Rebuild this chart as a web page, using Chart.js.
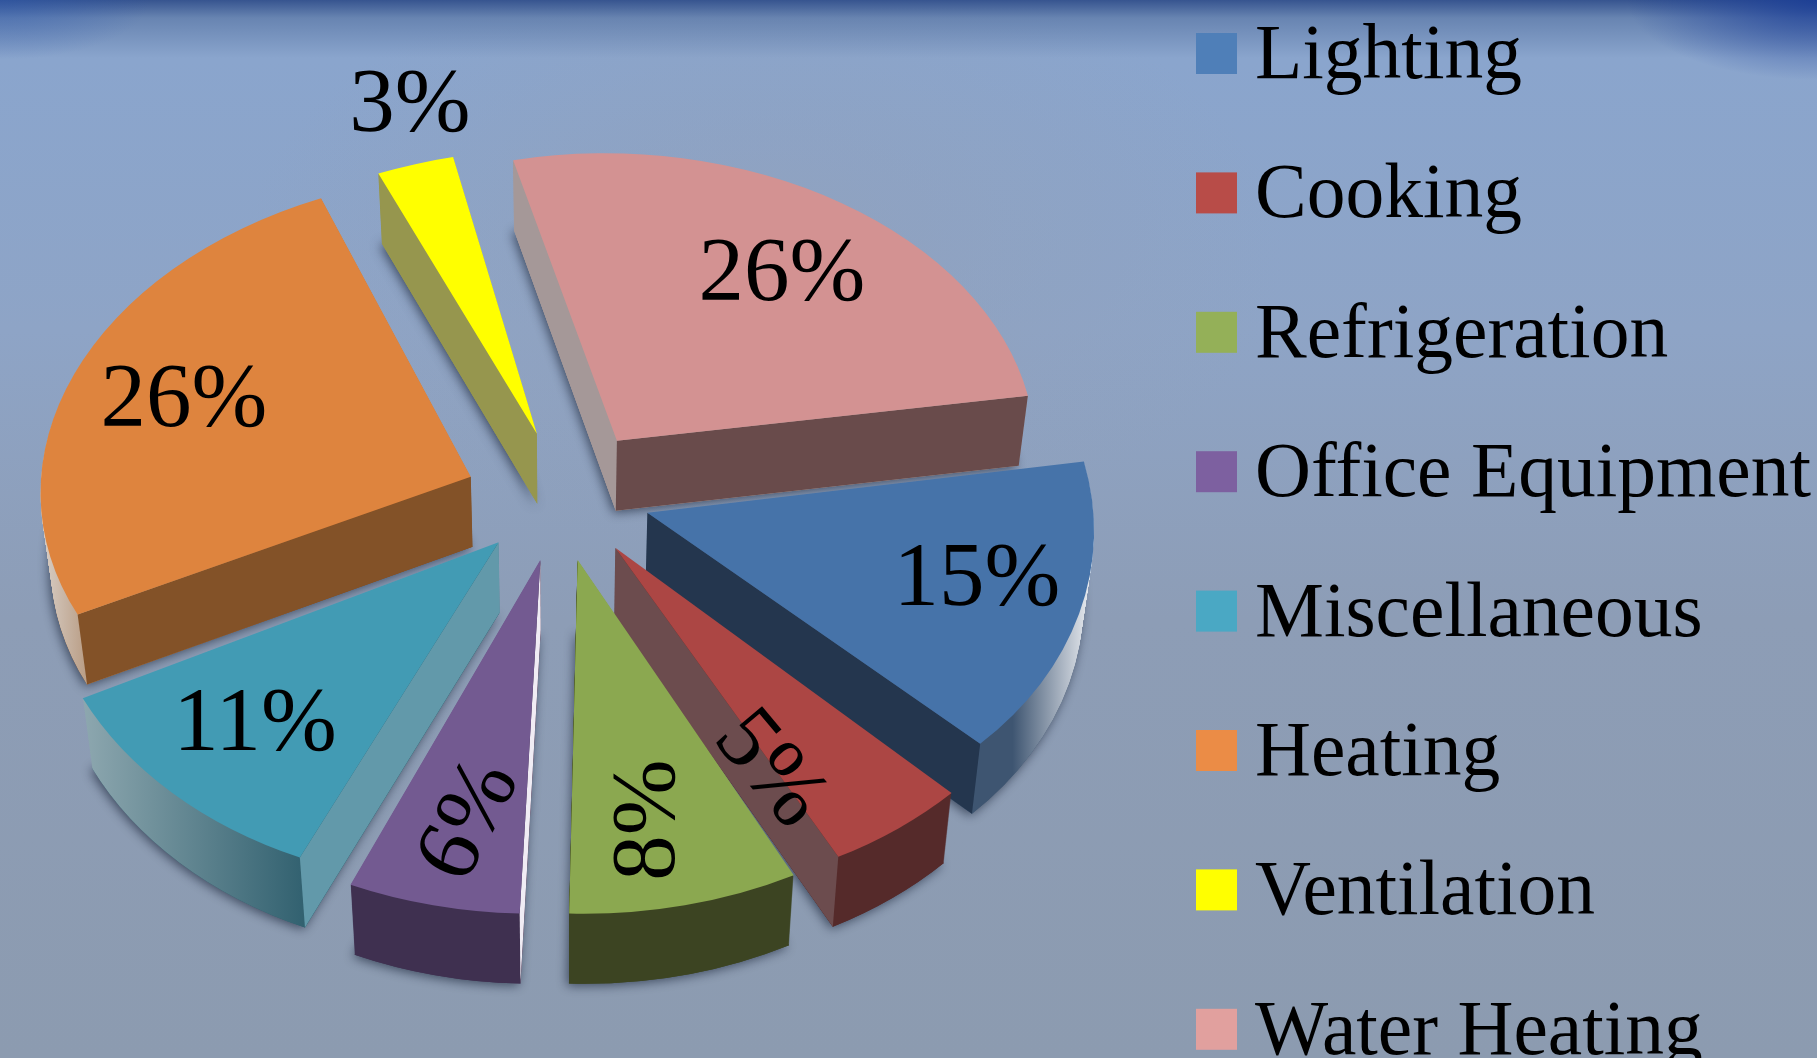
<!DOCTYPE html>
<html lang="en">
  <head>
    <meta charset="UTF-8" />
    <title>Energy use</title>
    <script src="https://cdn.jsdelivr.net/npm/chart.js"></script>
    <style>
      html, body { margin: 0; height: 100%; overflow: hidden; }
      body {
        background:
          radial-gradient(ellipse 190px 80px at 100% 0, rgba(25, 60, 150, 0.85), rgba(25, 60, 150, 0) 100%),
          radial-gradient(ellipse 150px 60px at 0 0, rgba(40, 85, 175, 0.45), rgba(40, 85, 175, 0) 100%),
          linear-gradient(to bottom, rgba(50, 80, 140, 0.95) 0, rgba(70, 100, 150, 0.5) 18px, rgba(100, 125, 170, 0) 58px),
          radial-gradient(ellipse 520px 300px at 42% 24%, rgba(146, 160, 184, 0.6), rgba(146, 160, 184, 0) 100%),
          linear-gradient(to bottom, #8aa5cd 60px, #8ea4c6 330px, #8d9db6 620px, #8c9bb0 1058px);
      }
      canvas { display: block; }
    </style>
  </head>
  <body>
    <canvas id="pieChart" width="1817" height="1058"></canvas>
    <script>
      const categories = ["Lighting", "Cooking", "Refrigeration", "Office Equipment", "Miscellaneous", "Heating", "Ventilation", "Water Heating"];
      const shares = [15, 5, 8, 6, 11, 26, 3, 26];

      // colours
      const topColors = ["#4673a9", "#ac4644", "#8ba850", "#735a91", "#429bb4", "#de843e", "#ffff00", "#d39292"];
      const legendColors = ["#4f7fb8", "#b84c48", "#94b058", "#7d60a0", "#4aa8c4", "#eb8c46", "#ffff00", "#e1a09e"];
      const wallColors = ["#3e5571", "#552a2a", "#3c4422", "#3f3050", "#2f5f6e", "#845228", "#96964e", "#a59898"];
      const startFaces = ["#24364e", "#6c4c4e", "#3c4422", "#f0ecf4", "#6299aa", "#835228", "#96964e", "#a59898"];
      const endFaces = ["#24364e", "#6c4c4e", "#3c4422", "#3f3050", "#6299aa", "#835228", "#96964e", "#694b4b"];

      // percent labels, placed by hand like in the original slide
      const labelX = [977, 773, 645, 466, 255, 184, 410, 782];
      const labelY = [576, 767, 820, 819, 721, 397, 102, 271];
      const labelAngle = [0, 50, -90, -63, 0, 0, 0, 0];

      // small per slice corrections of the explode, in screen px
      const nudgeX = [0, 5, 0, 0, 0, 5, 10, 0];
      const nudgeY = [-6, -1, 2, 2, -2, 3, 7, 4];

      // fake 3d settings
      const CX = 559, CY = 498;
      const RADIUS = 438;
      const SQUASH = 0.72;
      const EXPLODE = 96;
      const DEPTH = 70;
      const PERSPECTIVE = 0.00016;
      const FIRST_ANGLE = 81;

      // local linear version of the perspective, one per slice
      function sliceMatrix(el, i) {
        const mid = (el.startAngle + el.endAngle) / 2;
        const u = Math.cos(mid) * (EXPLODE + RADIUS * 0.6);
        const v = Math.sin(mid) * (EXPLODE + RADIUS * 0.6);
        const f = 1 / (1 - PERSPECTIVE * v);
        const a = f;
        const c = u * PERSPECTIVE * f * f;
        const d = SQUASH * f * f;
        const px = CX + u * f + nudgeX[i];
        const py = CY + SQUASH * v * f + nudgeY[i];
        const ox = Math.cos(mid) * EXPLODE - u;
        const oy = Math.sin(mid) * EXPLODE - v;
        return { a, c, d, e: px + a * ox + c * oy, f: py + d * oy, v, mid };
      }

      function setLayer(ctx, m, drop) {
        // lower layers lean in a little
        const k = 1 - 0.00028 * drop;
        ctx.setTransform(m.a * k, 0, m.c * k, m.d, CX + (m.e - CX) * k, m.f + drop);
      }

      function wallPaint(ctx, color) {
        const g = ctx.createLinearGradient(CX - 540, 0, CX + 540, 0);
        g.addColorStop(0, "#e8e8e8");
        g.addColorStop(0.06, mix(color, 0.45));
        g.addColorStop(0.27, color);
        g.addColorStop(0.92, color);
        g.addColorStop(0.995, "#f0f2f6");
        return g;
      }

      function mix(hex, t) {
        const n = parseInt(hex.slice(1), 16);
        const ch = [n >> 16, (n >> 8) & 255, n & 255].map((x) => Math.round(x + (255 - x) * t));
        return `rgb(${ch[0]}, ${ch[1]}, ${ch[2]})`;
      }

      function sectorPath(ctx, el) {
        ctx.beginPath();
        ctx.moveTo(0, 0);
        ctx.arc(0, 0, el.outerRadius, el.startAngle, el.endAngle);
        ctx.closePath();
      }

      // side face between the apex and one rim corner
      function drawFace(ctx, m, el, angle, color) {
        const e = [m.a * Math.cos(angle) + m.c * Math.sin(angle), m.d * Math.sin(angle)];
        const i = [m.a * Math.cos(m.mid) + m.c * Math.sin(m.mid), m.d * Math.sin(m.mid)];
        const sideDown = e[0];
        const sideIn = e[0] * i[1] - e[1] * i[0];
        if (sideDown * sideIn > 0) return;
        const r = el.outerRadius;
        const corner = (drop) => {
          const k = 1 - 0.00028 * drop;
          const ex = m.e + m.a * r * Math.cos(angle) + m.c * r * Math.sin(angle);
          const ey = m.f + m.d * r * Math.sin(angle);
          return [[CX + (m.e - CX) * k, m.f + drop], [CX + (ex - CX) * k, ey + drop]];
        };
        const top = corner(0);
        const bottom = corner(DEPTH);
        ctx.setTransform(1, 0, 0, 1, 0, 0);
        ctx.beginPath();
        ctx.moveTo(top[0][0], top[0][1]);
        ctx.lineTo(top[1][0], top[1][1]);
        ctx.lineTo(bottom[1][0], bottom[1][1]);
        ctx.lineTo(bottom[0][0], bottom[0][1]);
        ctx.closePath();
        ctx.fillStyle = color;
        ctx.fill();
      }

      const pie3d = {
        id: "pie3d",
        beforeDatasetDraw(chart, args) {
          const ctx = chart.ctx;
          const arcs = args.meta.data;
          const order = arcs.map((el, i) => ({ el, i, m: sliceMatrix(el, i) })).sort((p, q) => p.m.v - q.m.v);
          ctx.save();
          order.forEach(({ el, i, m }) => {
            // soft shadow under the slab
            setLayer(ctx, m, DEPTH);
            sectorPath(ctx, el);
            ctx.setTransform(1, 0, 0, 1, 0, 0);
            ctx.shadowColor = "rgba(35, 45, 65, 0.75)";
            ctx.shadowBlur = 11;
            ctx.shadowOffsetX = -2;
            ctx.shadowOffsetY = 2;
            ctx.fillStyle = wallColors[i];
            ctx.fill();
            ctx.shadowColor = "transparent";
            // rim wall
            const paint = wallPaint(ctx, wallColors[i]);
            for (let drop = DEPTH; drop > 0; drop--) {
              setLayer(ctx, m, drop);
              sectorPath(ctx, el);
              ctx.setTransform(1, 0, 0, 1, 0, 0);
              ctx.fillStyle = paint;
              ctx.fill();
            }
            drawFace(ctx, m, el, el.startAngle, startFaces[i]);
            drawFace(ctx, m, el, el.endAngle, endFaces[i]);
            // top of the slice, the element itself
            setLayer(ctx, m, 0);
            ctx.translate(-el.x, -el.y);
            el.draw(ctx);
          });
          ctx.restore();
          return false;
        },
        afterDatasetsDraw(chart) {
          const ctx = chart.ctx;
          ctx.save();
          ctx.fillStyle = "#000";
          ctx.font = '91px "Liberation Serif"';
          ctx.textAlign = "center";
          ctx.textBaseline = "middle";
          shares.forEach((share, i) => {
            ctx.save();
            ctx.translate(labelX[i], labelY[i]);
            ctx.rotate((labelAngle[i] * Math.PI) / 180);
            ctx.fillText(share + "%", 0, 5);
            ctx.restore();
          });
          // legend
          ctx.font = '77.5px "Liberation Serif"';
          ctx.textAlign = "left";
          ctx.textBaseline = "alphabetic";
          categories.forEach((name, i) => {
            const y = 53.5 + i * 139.4;
            ctx.fillStyle = legendColors[i];
            ctx.fillRect(1196, y - 20.5, 41, 41);
            ctx.fillStyle = "#000";
            ctx.fillText(name, 1255, y + 24.5);
          });
          ctx.restore();
        },
      };

      new Chart(document.getElementById("pieChart"), {
        type: "pie",
        data: {
          labels: categories,
          datasets: [{ data: shares, backgroundColor: topColors, borderWidth: 0 }],
        },
        options: {
          responsive: false,
          animation: false,
          rotation: FIRST_ANGLE,
          radius: RADIUS,
          plugins: { legend: { display: false }, tooltip: { enabled: false } },
        },
        plugins: [pie3d],
      });
    </script>
  </body>
</html>
